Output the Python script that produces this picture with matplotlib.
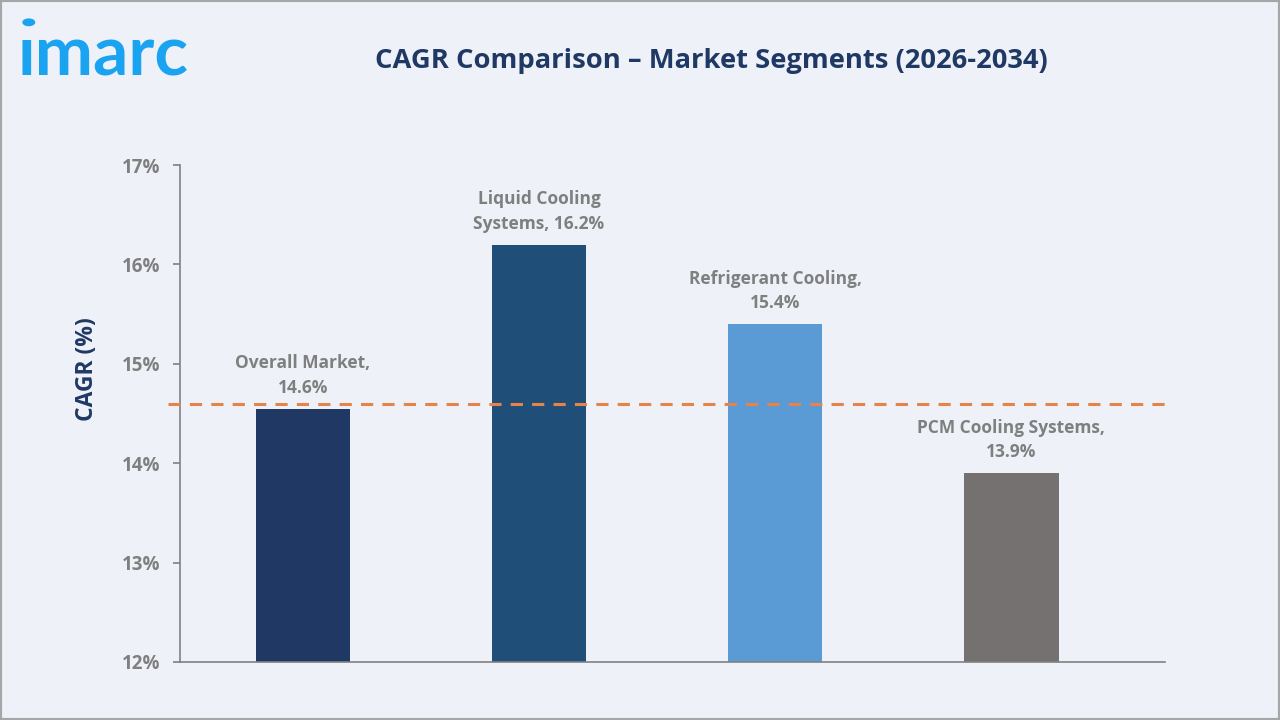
import matplotlib.pyplot as plt
from matplotlib.patches import Rectangle

# data
categories = ["Overall Market", "Liquid Cooling\nSystems", "Refrigerant Cooling", "PCM Cooling Systems"]
cagr = [14.55, 16.2, 15.4, 13.9]
bar_labels = ["Overall Market,\n14.6%", "Liquid Cooling\nSystems, 16.2%", "Refrigerant Cooling,\n15.4%", "PCM Cooling Systems,\n13.9%"]
overall_line = 14.6
yticks = [12, 13, 14, 15, 16, 17]

colors = ["#1F3864", "#1F4E79", "#5B9BD5", "#767171"]
navy = "#1F3864"
gray = "#7F7F7F"

plt.rcParams['font.family'] = ['Open Sans', 'DejaVu Sans']

fig = plt.figure(figsize=(12.8, 7.2), dpi=100)
fig.patch.set_facecolor("#EEF2F8")
fig.patches.append(Rectangle((0, 0), 1, 1, transform=fig.transFigure, fill=False,
                             edgecolor="#A6A6A6", linewidth=3))

ax = fig.add_axes([0.1406, 0.0806, 0.7695, 0.6902])
ax.set_facecolor("#EEF2F8")

x = range(len(cagr))
ax.bar(x, cagr, width=0.4, color=colors, bottom=0)
ax.set_ylim(12, 17)
ax.set_xlim(-0.52, 3.65)

# reference line for the overall market
ax.hlines(overall_line, -0.57, 3.65, colors="#E5844A", linestyles=(0, (4, 3)),
          linewidth=2.2, clip_on=False, zorder=3)

for i, (v, lab) in enumerate(zip(cagr, bar_labels)):
    ax.text(i, v + 0.12, lab, ha="center", va="bottom", fontsize=12.5,
            fontweight="bold", color=gray, linespacing=1.45)

ax.set_yticks(yticks)
ax.set_yticklabels([f"{t}%" for t in yticks])
ax.set_xticks([])
ax.tick_params(axis="y", colors=gray, labelsize=13.5, length=5, width=1.2, pad=9)
for t in ax.get_yticklabels():
    t.set_fontweight("bold")
ax.set_ylabel("CAGR (%)", fontsize=16.5, fontweight="bold", color=navy)
ax.yaxis.set_label_coords(-0.082, 0.59)

for s in ["top", "right"]:
    ax.spines[s].set_visible(False)
ax.spines["left"].set_color("#808080")
ax.spines["bottom"].set_color("#808080")
ax.spines["left"].set_linewidth(1.2)
ax.spines["bottom"].set_linewidth(1.2)

fig.text(0.556, 0.915, "CAGR Comparison – Market Segments (2026-2034)", ha="center", va="center",
         fontsize=19.7, fontweight="bold", color=navy)
fig.text(0.014, 0.895, "ımarc", ha="left", va="baseline", fontsize=50, fontweight="bold",
         color="#1AA3F0", family=["Lato", "DejaVu Sans"])
fig.patches.append(plt.Circle((0.0225, 0.969), 0.0045, transform=fig.transFigure,
                              color="#1AA3F0"))

fig.savefig("out.png", dpi=100, facecolor=fig.get_facecolor())
